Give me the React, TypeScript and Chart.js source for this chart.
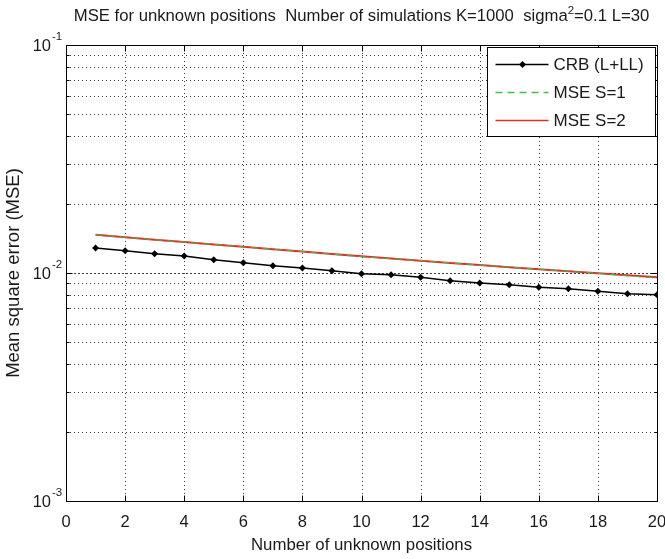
import React, { useEffect, useRef } from 'react';
import { Chart, registerables } from 'chart.js';
Chart.register(...registerables);

const positions = [1, 2, 3, 4, 5, 6, 7, 8, 9, 10, 11, 12, 13, 14, 15, 16, 17, 18, 19, 20];
const crb = [0.01287, 0.01253, 0.01215, 0.01188, 0.01144, 0.0111, 0.01076, 0.01051, 0.01023, 0.00993,
  0.00983, 0.00957, 0.00925, 0.00904, 0.00889, 0.00866, 0.00853, 0.00831, 0.00811, 0.00803];
const mseS1 = [0.01472, 0.01435, 0.01399, 0.01366, 0.01334, 0.01302, 0.01271, 0.01241, 0.01209, 0.01178,
  0.01156, 0.01132, 0.01107, 0.01084, 0.01061, 0.01039, 0.01017, 0.00996, 0.00971, 0.00950];
const mseS2 = [0.01472, 0.01435, 0.01399, 0.01366, 0.01334, 0.01302, 0.01271, 0.01241, 0.01211, 0.01184,
  0.01158, 0.01132, 0.01107, 0.01084, 0.01061, 0.01039, 0.01017, 0.00997, 0.00977, 0.00957];
const xTicks = [0, 2, 4, 6, 8, 10, 12, 14, 16, 18, 20];
const yDecades = [-3, -2, -1];
const seriesNames = ['CRB (L+LL)', 'MSE S=1', 'MSE S=2'];
const titleMain = 'MSE for unknown positions  Number of simulations K=1000  sigma';
const titleSup = '2';
const titleTail = '=0.1 L=30';
const xTitle = 'Number of unknown positions';
const yTitle = 'Mean square error (MSE)';

const FONT = "'Liberation Sans', Arial, sans-serif";
const BLACK = '#000000';
const RED = '#dc2f2c';
const GREEN = '#44c044';
const TEXT = '#1a1a1a';

const matlabPlugin = {
  id: 'matlabLook',
  beforeDatasetsDraw(chart: any) {
    const { ctx, chartArea: ca, scales } = chart;
    const xs = scales.x, ys = scales.y;
    ctx.save();
    ctx.strokeStyle = '#3a3a3a';
    ctx.lineWidth = 1;
    ctx.setLineDash([1, 3]);
    for (const t of xTicks) {
      if (t === 0 || t === 20) continue;
      const px = Math.round(xs.getPixelForValue(t)) + 0.5;
      ctx.beginPath();
      ctx.moveTo(px, ca.top);
      ctx.lineTo(px, ca.bottom);
      ctx.stroke();
    }
    for (const d of [-3, -2]) {
      for (let m = 1; m <= 9; m++) {
        if (d === -3 && m === 1) continue;
        const v = m * Math.pow(10, d);
        const py = Math.round(ys.getPixelForValue(v)) + 0.5;
        ctx.setLineDash(m === 1 ? [2, 2] : [1, 3]);
        ctx.beginPath();
        ctx.moveTo(ca.left, py);
        ctx.lineTo(ca.right, py);
        ctx.stroke();
      }
    }
    ctx.restore();
  },
  afterDatasetsDraw(chart: any) {
    const { ctx, chartArea: ca, scales } = chart;
    const xs = scales.x, ys = scales.y;
    ctx.save();
    ctx.strokeStyle = BLACK;
    ctx.lineWidth = 1;
    ctx.setLineDash([]);
    const L = Math.round(ca.left) + 0.5, R = Math.round(ca.right) + 0.5;
    const T = Math.round(ca.top) + 0.5, B = Math.round(ca.bottom) + 0.5;
    ctx.strokeRect(L, T, R - L, B - T);
    ctx.beginPath();
    for (const t of xTicks) {
      const px = Math.round(xs.getPixelForValue(t)) + 0.5;
      ctx.moveTo(px, B); ctx.lineTo(px, B - 6);
      ctx.moveTo(px, T); ctx.lineTo(px, T + 6);
    }
    for (const d of [-3, -2]) {
      for (let m = 1; m <= 9; m++) {
        const v = m * Math.pow(10, d);
        const py = Math.round(ys.getPixelForValue(v)) + 0.5;
        const len = m === 1 ? 6 : 3;
        ctx.moveTo(L, py); ctx.lineTo(L + len, py);
        ctx.moveTo(R, py); ctx.lineTo(R - len, py);
      }
    }
    ctx.stroke();

    // legend
    const lw = 168, lh = 89;
    const lx = Math.round(ca.right) - 2 - lw + 0.5;
    const ly = Math.round(ca.top) + 2 + 0.5;
    ctx.fillStyle = '#ffffff';
    ctx.fillRect(lx, ly, lw, lh);
    ctx.strokeStyle = BLACK;
    ctx.strokeRect(lx, ly, lw, lh);
    const rows = [ly + 17, ly + 45, ly + 73];
    const colors = [BLACK, GREEN, RED];
    const dashes = [[], [7, 5], []];
    ctx.font = `17px ${FONT}`;
    ctx.textBaseline = 'middle';
    ctx.textAlign = 'left';
    rows.forEach((ry, i) => {
      ctx.strokeStyle = colors[i];
      ctx.lineWidth = 1.5;
      ctx.setLineDash(dashes[i]);
      ctx.beginPath();
      ctx.moveTo(lx + 8, ry);
      ctx.lineTo(lx + 61, ry);
      ctx.stroke();
      ctx.setLineDash([]);
      if (i === 0) {
        ctx.fillStyle = BLACK;
        ctx.beginPath();
        const cx = lx + 35;
        ctx.moveTo(cx, ry - 3.5); ctx.lineTo(cx + 3.5, ry); ctx.lineTo(cx, ry + 3.5); ctx.lineTo(cx - 3.5, ry);
        ctx.closePath();
        ctx.fill();
      }
      ctx.fillStyle = TEXT;
      ctx.fillText(seriesNames[i], lx + 66, ry + 1);
    });
    ctx.restore();
  },
  afterDraw(chart: any) {
    const { ctx, chartArea: ca, scales } = chart;
    const ys = scales.y;
    ctx.save();
    ctx.fillStyle = TEXT;
    ctx.textBaseline = 'alphabetic';
    ctx.textAlign = 'left';
    const big = `16.7px ${FONT}`;
    const small = `11.5px ${FONT}`;
    ctx.font = big;
    const w1 = ctx.measureText(titleMain).width;
    const w3 = ctx.measureText(titleTail).width;
    ctx.font = small;
    const w2 = ctx.measureText(titleSup).width;
    const total = w1 + w2 + w3;
    const x0 = (ca.left + ca.right) / 2 - total / 2;
    const base = 21;
    ctx.font = big;
    ctx.fillText(titleMain, x0, base);
    ctx.font = small;
    ctx.fillText(titleSup, x0 + w1, base - 7);
    ctx.font = big;
    ctx.fillText(titleTail, x0 + w1 + w2, base);
    for (const d of yDecades) {
      const py = ys.getPixelForValue(Math.pow(10, d));
      ctx.font = `16.5px ${FONT}`;
      ctx.textAlign = 'right';
      ctx.textBaseline = 'middle';
      ctx.fillText('10', ca.left - 15, py + 1);
      ctx.font = small;
      ctx.textAlign = 'left';
      ctx.fillText(String(d), ca.left - 14, py - 8);
    }
    ctx.restore();
  },
};

export default function App() {
  const ref = useRef<HTMLCanvasElement | null>(null);
  useEffect(() => {
    document.body.style.margin = '0';
    const canvas = ref.current;
    if (!canvas) return;
    const mk = (arr: number[]) => positions.map((x, i) => ({ x, y: arr[i] }));
    const chart = new Chart(canvas, {
      type: 'line',
      data: {
        datasets: [
          {
            label: seriesNames[1],
            data: mk(mseS1),
            borderColor: GREEN,
            borderWidth: 1,
            borderDash: [7, 5],
            pointRadius: 0,
            fill: false,
          },
          {
            label: seriesNames[2],
            data: mk(mseS2),
            borderColor: RED,
            borderWidth: 2,
            pointRadius: 0,
            fill: false,
          },
          {
            label: seriesNames[0],
            data: mk(crb),
            borderColor: BLACK,
            backgroundColor: BLACK,
            borderWidth: 1.5,
            pointStyle: 'rectRot',
            pointRadius: 3.5,
            pointBorderWidth: 0,
            fill: false,
          },
        ],
      },
      options: {
        animation: false,
        responsive: false,
        layout: { padding: { left: 0, right: 8, top: 45, bottom: 0 } },
        plugins: { legend: { display: false }, tooltip: { enabled: false }, title: { display: false } },
        scales: {
          x: {
            type: 'linear',
            min: 0,
            max: 20,
            grid: { display: false },
            border: { display: false },
            ticks: {
              stepSize: 2,
              color: TEXT,
              font: { family: FONT, size: 16.5 },
              padding: 4,
              maxRotation: 0,
            },
            title: {
              display: true,
              text: xTitle,
              color: TEXT,
              font: { family: FONT, size: 16.8 },
              padding: { top: 0, bottom: 4 },
            },
            afterFit: (s: any) => { s.height = 58; s.paddingLeft = 0; s.paddingRight = 0; },
          },
          y: {
            type: 'logarithmic',
            min: 0.001,
            max: 0.1,
            grid: { display: false },
            border: { display: false },
            ticks: { display: false },
            title: {
              display: true,
              text: yTitle,
              color: TEXT,
              font: { family: FONT, size: 18.5 },
              padding: { top: 3, bottom: 0 },
            },
            afterFit: (s: any) => { s.width = 66; s.paddingTop = 0; s.paddingBottom = 0; },
          },
        },
      },
      plugins: [matlabPlugin],
    } as any);
    return () => chart.destroy();
  }, []);
  return <canvas ref={ref} width={665} height={559} style={{ display: 'block' }} />;
}
